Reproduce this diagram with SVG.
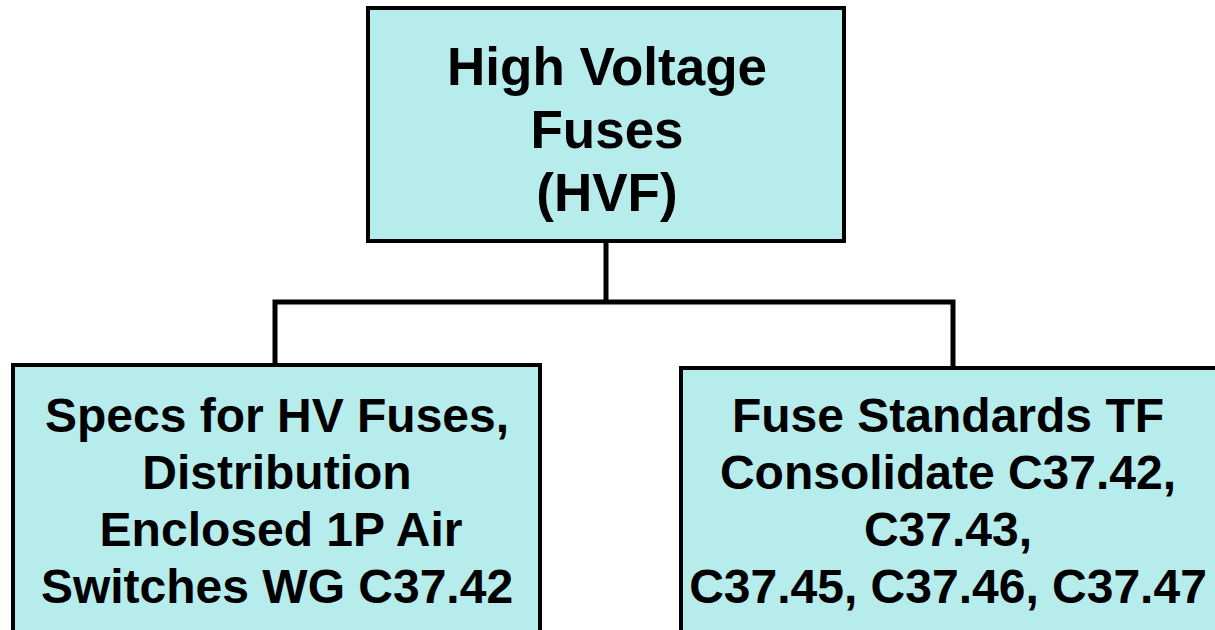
<svg xmlns="http://www.w3.org/2000/svg" width="1215" height="630" viewBox="0 0 1215 630">
<style>
.box{fill:#b7ecec;stroke:#000;stroke-width:4}
.t{font-family:"Liberation Sans",Arial,sans-serif;font-weight:bold;fill:#000;text-anchor:middle}
.conn{fill:none;stroke:#000;stroke-width:5}
</style>
<rect width="1215" height="630" fill="#fff"/>
<g id="connectors">
<path class="conn" d="M606 242V302"/>
<path class="conn" d="M275 364V302H953V367"/>
</g>
<g id="hvf">
<rect class="box" x="368" y="8" width="476" height="233"/>
<text class="t" font-size="53"><tspan x="607" y="85">High Voltage</tspan><tspan x="607" y="148">Fuses</tspan><tspan x="607" y="211">(HVF)</tspan></text>
</g>
<g id="specs">
<rect class="box" x="13" y="365" width="527" height="275"/>
<text class="t" font-size="48"><tspan x="277" y="432">Specs for HV Fuses,</tspan><tspan x="277" y="489">Distribution</tspan><tspan x="281" y="546">Enclosed 1P Air</tspan><tspan x="277" y="603">Switches WG C37.42</tspan></text>
</g>
<g id="fusestd">
<rect class="box" x="681" y="368" width="540" height="275"/>
<text class="t" font-size="48"><tspan x="948" y="432">Fuse Standards TF</tspan><tspan x="948" y="489">Consolidate C37.42,</tspan><tspan x="948" y="546">C37.43,</tspan><tspan x="948" y="603">C37.45, C37.46, C37.47</tspan></text>
</g>
</svg>
